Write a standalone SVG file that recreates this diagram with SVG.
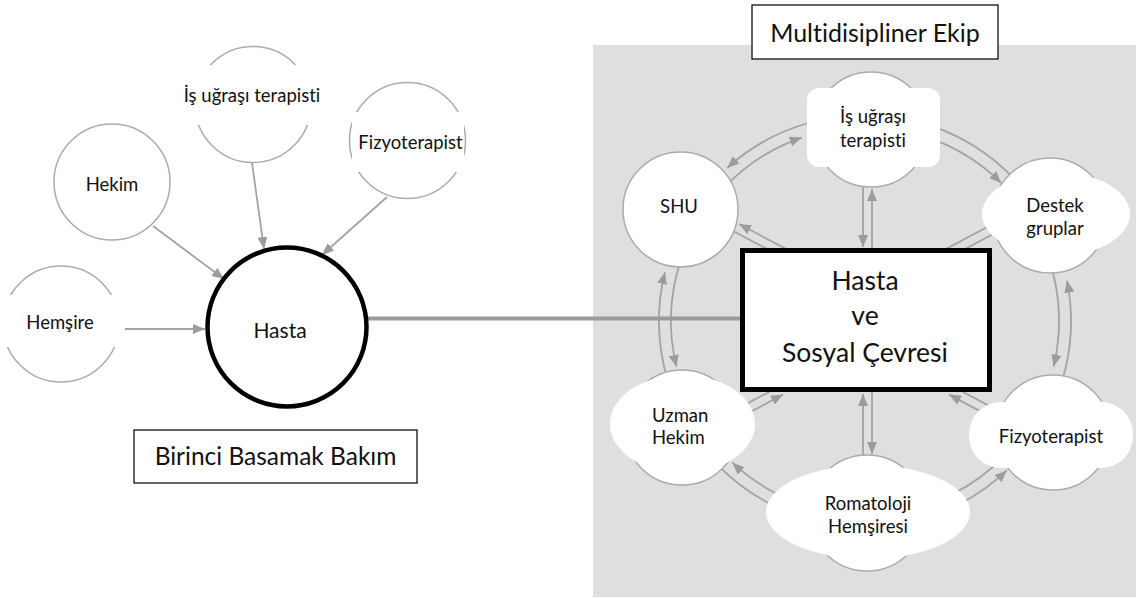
<svg xmlns="http://www.w3.org/2000/svg" width="1138" height="598" viewBox="0 0 1138 598">
  <style>
    .lbl { font-family: Lato, "Liberation Sans", Arial, sans-serif; font-size: 18.5px; fill: #111; text-anchor: middle; font-variant-ligatures: none; font-feature-settings: "liga" 0, "clig" 0; }
    .big { font-size: 26.5px; }
    .ttl { font-size: 24.5px; }
    .hst { font-size: 21px; }
    .nd { fill: #fff; stroke: #ababab; stroke-width: 1.5; }
    .ov { fill: #fff; stroke: none; }
    .cn { fill: none; stroke: #a3a3a3; stroke-width: 1.8; }
    .ca { fill: none; stroke: #a3a3a3; stroke-width: 1.8; marker-end: url(#ah); }
    .frame { fill: #fff; stroke: #111; stroke-width: 1.3; }
  </style>
  <defs>
    <marker id="ah" markerUnits="userSpaceOnUse" markerWidth="12" markerHeight="10" viewBox="0 0 12 10" refX="12" refY="5" orient="auto">
      <path d="M0,0 L12,5 L0,10 z" fill="#9c9c9c"/>
    </marker>
    <clipPath id="clipD"><rect x="990" y="160" width="140" height="78"/></clipPath>
  </defs>

  <rect id="bg" x="593" y="45" width="543" height="552" fill="#dfdfdf"/>

  <!-- Left nodes -->
  <g id="n-hekim">
    <circle class="nd" cx="112" cy="182" r="58"/>
    <text class="lbl" x="112" y="191">Hekim</text>
  </g>
  <g id="n-is-left">
    <circle class="nd" cx="253" cy="104.5" r="58"/>
    <rect class="ov" x="178" y="65" width="152" height="60"/>
    <text class="lbl" x="252" y="101.5">İş uğraşı terapisti</text>
  </g>
  <g id="n-fizyo-left">
    <circle class="nd" cx="407.5" cy="140.5" r="58"/>
    <rect class="ov" x="352" y="112" width="112" height="60"/>
    <text class="lbl" x="410.5" y="149">Fizyoterapist</text>
  </g>
  <g id="n-hemsire">
    <circle class="nd" cx="61" cy="324" r="58"/>
    <rect class="ov" x="0" y="295" width="124" height="52"/>
    <text class="lbl" x="60" y="329">Hemşire</text>
  </g>

  <!-- Connectors -->
  <g id="connectors">
    <!-- left -->
    <line class="ca" x1="153" y1="226" x2="224" y2="279"/>
    <line class="ca" x1="252" y1="163" x2="264" y2="249"/>
    <line class="ca" x1="387" y1="197" x2="322" y2="255"/>
    <line class="ca" x1="125" y1="329" x2="205" y2="329"/>

    <!-- ring arcs -->
    <path class="ca" d="M810.0 122.5 A206 206 0 0 0 727.2 167.9"/>
    <path class="ca" d="M725.5 186.2 A194 194 0 0 1 801.8 137.6"/>
    <path class="ca" d="M934.5 139.9 A194 194 0 0 1 1001.2 182.9"/>
    <path class="cn" d="M1013.2 177.9 A206 206 0 0 0 932.1 126.2"/>
    <path class="ca" d="M1050.5 264.3 A194 194 0 0 1 1053.6 366.6"/>
    <path class="ca" d="M1062 381.2 A206 206 0 0 0 1067 280.6"/>
    <path class="ca" d="M961.7 502.9 A206 206 0 0 0 1006.8 470.4"/>
    <path class="cn" d="M1006.9 453.3 A194 194 0 0 1 950 495.4"/>
    <path class="ca" d="M780 495.4 A194 194 0 0 1 732.4 462.7"/>
    <path class="cn" d="M716.8 464.1 A206 206 0 0 0 774.7 506.2"/>
    <path class="ca" d="M667 377.8 A206 206 0 0 1 664.9 272.2"/>
    <path class="ca" d="M680.5 261.1 A194 194 0 0 0 676.5 366.9"/>

    <!-- spokes -->
    <line class="ca" x1="863" y1="180" x2="863" y2="247"/>
    <line class="ca" x1="872" y1="260" x2="872" y2="189"/>
    <line class="ca" x1="863" y1="462" x2="863" y2="394"/>
    <line class="ca" x1="872" y1="380" x2="872" y2="454"/>
    <line class="ca" x1="816.2" y1="265" x2="739" y2="224"/>
    <line class="cn" x1="726" y1="227.2" x2="797.1" y2="265"/>
    <line class="cn" x1="915.8" y1="265" x2="993" y2="224"/>
    <line class="cn" x1="1006" y1="227.2" x2="934.9" y2="265"/>
    <line class="ca" x1="725.8" y1="425" x2="783" y2="394.6"/>
    <line class="cn" x1="734.8" y1="410.1" x2="791.5" y2="380"/>
    <line class="ca" x1="1006.2" y1="425" x2="949" y2="394.6"/>
    <line class="cn" x1="997.2" y1="410.1" x2="940.5" y2="380"/>

    <!-- main link -->
    <line x1="366" y1="318.5" x2="742" y2="318.5" stroke="#9a9a9a" stroke-width="4"/>
  </g>

  <!-- Primary care centre -->
  <g id="n-hasta">
    <circle cx="287" cy="327" r="79.5" fill="#fff" stroke="#000" stroke-width="4.5"/>
    <text class="lbl hst" x="280" y="338">Hasta</text>
  </g>
  <g id="n-birinci">
    <rect class="frame" x="134" y="430" width="283" height="53"/>
    <text class="lbl ttl" x="275.5" y="464.5">Birinci Basamak Bakım</text>
  </g>

  <!-- Right nodes -->
  <g id="n-multi">
    <rect class="frame" x="752" y="5" width="246" height="54"/>
    <text class="lbl" style="font-size:25px" x="875" y="42">Multidisipliner Ekip</text>
  </g>
  <g id="n-shu">
    <circle class="nd" cx="680.5" cy="209.5" r="57.5"/>
    <text class="lbl" x="679" y="213">SHU</text>
  </g>
  <g id="n-is-right">
    <circle class="nd" cx="871" cy="129.5" r="57.5"/>
    <rect class="ov" x="807" y="88" width="133" height="79" rx="12"/>
    <text class="lbl" x="873" y="123">İş uğraşı</text>
    <text class="lbl" x="873" y="147">terapisti</text>
  </g>
  <g id="n-destek">
    <circle class="nd" cx="1050" cy="215.5" r="57.5"/>
    <ellipse class="ov" cx="1056" cy="214" rx="74" ry="42"/>
    <text class="lbl" x="1055" y="212">Destek</text>
    <text class="lbl" x="1055" y="235" clip-path="url(#clipD)">gruplar</text>
  </g>
  <g id="n-fizyo-right">
    <circle class="nd" cx="1053" cy="432.5" r="57.5"/>
    <rect class="ov" x="969" y="402" width="164" height="66" rx="32"/>
    <text class="lbl" x="1051" y="443">Fizyoterapist</text>
  </g>
  <g id="n-romatoloji">
    <circle class="nd" cx="867" cy="513" r="58"/>
    <ellipse class="ov" cx="868" cy="512" rx="102" ry="47"/>
    <text class="lbl" x="868" y="510">Romatoloji</text>
    <text class="lbl" x="868" y="533">Hemşiresi</text>
  </g>
  <g id="n-uzman">
    <circle class="nd" cx="682" cy="427.5" r="57.5"/>
    <ellipse class="ov" cx="682.5" cy="424" rx="72.5" ry="49"/>
    <text class="lbl" x="652" y="422" style="text-anchor:start">Uzman</text>
    <text class="lbl" x="652" y="444" style="text-anchor:start">Hekim</text>
  </g>
  <g id="n-center">
    <rect x="742.5" y="250.5" width="247" height="139" fill="#fff" stroke="#000" stroke-width="5"/>
    <text class="lbl big" x="865" y="290">Hasta</text>
    <text class="lbl big" x="865" y="325">ve</text>
    <text class="lbl big" x="865" y="361.5">Sosyal Çevresi</text>
  </g>
</svg>
